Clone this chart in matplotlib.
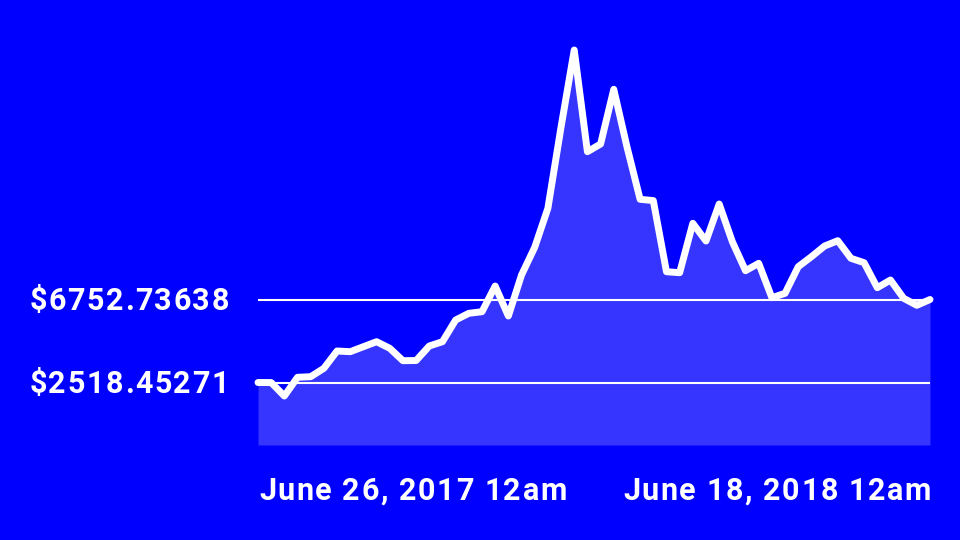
import matplotlib
matplotlib.use('Agg')
import matplotlib.pyplot as plt
from matplotlib.font_manager import findfont, FontProperties
from matplotlib.ft2font import FT2Font

# weekly closing prices, June 26 2017 -> June 18 2018
prices = [2518.45271, 2515, 1830, 2784, 2815, 3243, 4126, 4090, 4345, 4600,
          4263, 3631, 3640, 4381, 4600, 5707, 6049, 6130, 7441, 5911,
          8003, 9416, 11405, 15553, 19481, 14293, 14686, 17476, 14548, 11864,
          11800, 8171, 8120, 10640, 9737, 11625, 9702, 8222, 8599, 6845,
          7069, 8426, 8936, 9482, 9753, 8855, 8630, 7355, 7748, 6814,
          6457, 6752.73638]
first_label = '$2518.45271'
last_label = '$6752.73638'
start_label = 'June 26, 2017 12am'
end_label = 'June 18, 2018 12am'

bg = '#0000ff'
fill = '#3535ff'
W, H = 960, 540
DPI = 100
FS = 22
TRACK = 1.6  # extra pixels between letters

plt.rcParams['font.family'] = ['Roboto', 'DejaVu Sans']
fprop = FontProperties(family='Roboto', weight='bold', size=FS)
ft = FT2Font(findfont(fprop))
ft.set_size(FS, DPI)


def advances(s):
    return [ft.load_char(ord(c)).linearHoriAdvance / 65536.0 for c in s]


def spaced_text(fig, s, x, y, ha='left'):
    # draw text letter by letter (figure pixels, baseline) with tracking
    adv = advances(s)
    total = sum(adv) + TRACK * (len(s) - 1)
    if ha == 'right':
        x = x - total
    for c, a in zip(s, adv):
        fig.text(x / W, y / H, c, ha='left', va='baseline', color='white',
                 fontproperties=fprop)
        x += a + TRACK


fig = plt.figure(figsize=(W / DPI, H / DPI), dpi=DPI, facecolor=bg)
ax = fig.add_axes([258 / W, (H - 445) / H, (930 - 258) / W, (445 - 40) / H])
ax.set_facecolor(bg)

x = list(range(len(prices)))
ymin, ymax = -670, 19992
ax.fill_between(x, prices, ymin, color=fill, lw=0, zorder=1)
ax.axhline(prices[0], color='white', lw=1.5, zorder=2)
ax.axhline(prices[-1], color='white', lw=1.5, zorder=2)
ax.plot(x, prices, color='white', lw=5, solid_joinstyle='round',
        solid_capstyle='round', zorder=3, clip_on=False)

ax.set_xlim(0, len(prices) - 1)
ax.set_ylim(ymin, ymax)
ax.axis('off')

# value labels: baseline ~10px below the line, right edge at 228px
for val, lab in [(prices[0], first_label), (prices[-1], last_label)]:
    ypix = ax.transData.transform((0, val))[1]
    spaced_text(fig, lab, 229, ypix - 10.5, ha='right')

spaced_text(fig, start_label, 259, H - 500, ha='left')
spaced_text(fig, end_label, 931, H - 500, ha='right')

fig.savefig('out.png', dpi=DPI, facecolor=bg)
